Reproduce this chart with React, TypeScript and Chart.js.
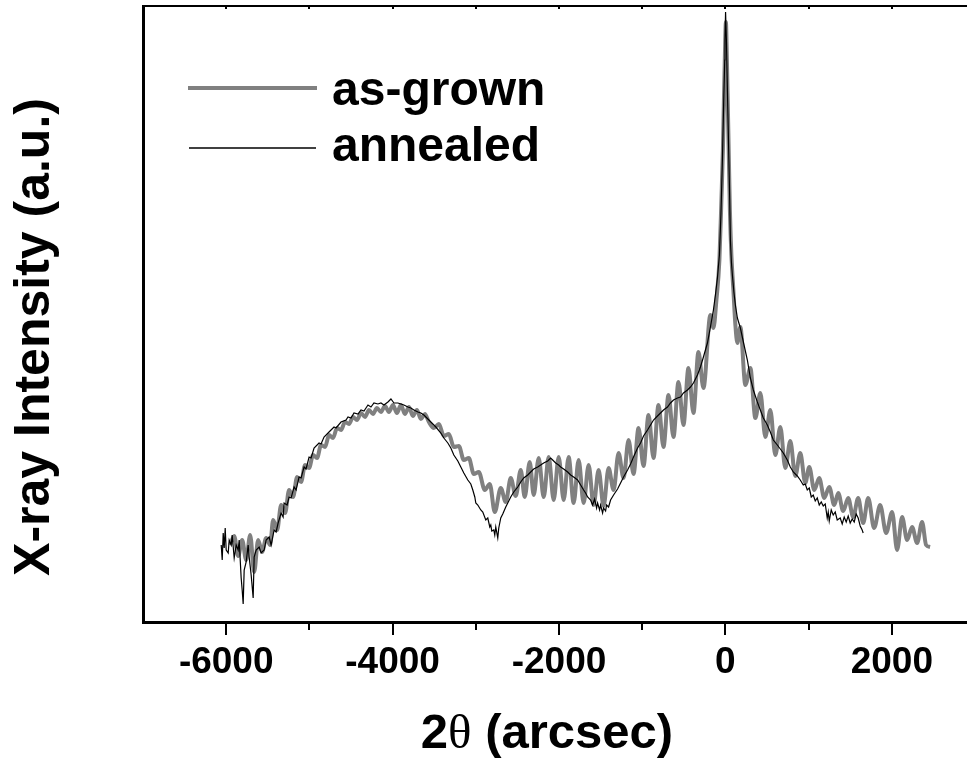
import React, { useEffect, useRef } from 'react';
import { Chart, registerables } from 'chart.js';

Chart.register(...registerables);

// ---- Data (x in arcsec, y = log intensity in arbitrary units) ----
const asGrownX = [
  -5952, -5904, -5856, -5808, -5760, -5712, -5664, -5616, -5568, -5520, -5472, -5436, -5388, -5340, -5292, -5244,
  -5196, -5148, -5100, -5052, -5004, -4956, -4908, -4860, -4812, -4764, -4716, -4668, -4620, -4572, -4524, -4476,
  -4428, -4380, -4332, -4284, -4236, -4188, -4140, -4092, -4044, -3996, -3948, -3900, -3852, -3804, -3756, -3708,
  -3660, -3612, -3564, -3504, -3444, -3384, -3324, -3264, -3204, -3144, -3084, -3024, -2964, -2892, -2832, -2772,
  -2700, -2640, -2580, -2520, -2460, -2412, -2352, -2304, -2244, -2184, -2124, -2064, -2004, -1944, -1884, -1824,
  -1764, -1704, -1644, -1584, -1524, -1464, -1404, -1344, -1284, -1224, -1164, -1104, -1044, -984, -924, -864,
  -804, -744, -684, -624, -564, -504, -444, -384, -324, -264, -180, -144, -108, -72, -48, -30,
  -18, -6, 6, 18, 30, 42, 54, 72, 96, 120, 144, 180, 240, 300, 360, 420,
  480, 540, 600, 660, 720, 780, 840, 900, 960, 1008, 1068, 1128, 1188, 1248, 1308, 1356,
  1416, 1476, 1536, 1596, 1656, 1716, 1788, 1860, 1932, 2004, 2064, 2124, 2184, 2244, 2304, 2364,
  2412, 2460,
];
const asGrownY = [
  77, 86, 66, 82, 62, 87, 50, 82, 70, 84, 77, 102, 92, 117, 109, 132,
  125, 145, 140, 157, 154, 167, 164, 177, 175, 187, 184, 194, 192, 200, 198, 205,
  202, 209, 205, 212, 208, 214, 210, 216, 210, 217, 209, 217, 208, 215, 206, 212,
  203, 208, 200, 194, 198, 186, 188, 175, 176, 162, 164, 148, 150, 132, 138, 110,
  134, 120, 144, 126, 152, 125, 160, 127, 164, 125, 165, 122, 165, 122, 165, 119,
  162, 119, 157, 117, 152, 116, 154, 132, 169, 144, 182, 148, 194, 156, 207, 164,
  217, 175, 227, 185, 240, 197, 254, 209, 270, 234, 307, 294, 322, 362, 422, 472,
  522, 567, 600, 562, 512, 462, 412, 367, 332, 297, 279, 295, 237, 254, 204, 229,
  185, 212, 167, 195, 154, 181, 146, 169, 139, 155, 132, 144, 124, 135, 117, 129,
  111, 124, 105, 124, 99, 124, 94, 117, 89, 110, 72, 105, 82, 95, 79, 100,
  77, 75,
];

const annealedX = [
  -6060, -6048, -6036, -6024, -6012, -6000, -5976, -5964, -5940, -5928, -5904, -5880, -5856, -5844, -5820, -5808,
  -5796, -5784, -5760, -5736, -5724, -5700, -5676, -5664, -5640, -5604, -5580, -5544, -5520, -5484, -5460, -5424,
  -5400, -5376, -5340, -5316, -5304, -5268, -5244, -5220, -5184, -5160, -5124, -5100, -5064, -5040, -5004, -4980,
  -4944, -4884, -4860, -4824, -4764, -4704, -4680, -4620, -4560, -4536, -4500, -4464, -4416, -4380, -4344, -4296,
  -4260, -4224, -4176, -4140, -4104, -4056, -4020, -3984, -3936, -3900, -3864, -3816, -3780, -3744, -3696, -3660,
  -3624, -3576, -3540, -3480, -3420, -3384, -3336, -3300, -3264, -3216, -3180, -3144, -3096, -3060, -3036, -3012,
  -3000, -2976, -2940, -2916, -2880, -2856, -2832, -2820, -2808, -2784, -2772, -2760, -2736, -2724, -2700, -2676,
  -2640, -2616, -2580, -2544, -2496, -2460, -2424, -2376, -2340, -2304, -2256, -2220, -2184, -2136, -2100, -2076,
  -2040, -2004, -1980, -1944, -1896, -1860, -1824, -1776, -1740, -1704, -1680, -1656, -1620, -1596, -1572, -1548,
  -1536, -1512, -1500, -1476, -1464, -1440, -1428, -1404, -1380, -1344, -1296, -1260, -1224, -1176, -1140, -1104,
  -1056, -1020, -984, -936, -900, -864, -816, -780, -744, -696, -660, -624, -576, -540, -504, -456,
  -420, -384, -336, -300, -264, -216, -180, -144, -120, -96, -72, -54, -36, -20, -8, -5,
  2, 12, 24, 42, 52, 60, 72, 84, 102, 120, 144, 180, 216, 264, 300, 336,
  384, 420, 456, 504, 540, 576, 624, 660, 696, 744, 780, 816, 864, 900, 936, 960,
  984, 1008, 1032, 1056, 1080, 1104, 1128, 1152, 1176, 1200, 1224, 1236, 1248, 1272, 1296, 1320,
  1344, 1380, 1404, 1428, 1452, 1476, 1500, 1524, 1548, 1572, 1596, 1620, 1644, 1656,
];
const annealedY = [
  77, 62, 89, 74, 94, 72, 69, 82, 77, 87, 64, 77, 72, 82, 44, 32,
  18, 52, 60, 77, 65, 47, 24, 65, 72, 75, 69, 72, 82, 85, 77, 92,
  90, 99, 109, 105, 119, 117, 125, 124, 135, 132, 145, 144, 155, 153, 165, 164,
  174, 179, 178, 185, 190, 195, 194, 200, 202, 205, 204, 209, 208, 212, 211, 217,
  215, 219, 218, 219, 217, 220, 223, 219, 219, 218, 217, 215, 214, 212, 210, 209,
  207, 203, 200, 195, 189, 184, 179, 174, 167, 161, 155, 149, 142, 138, 132, 125,
  119, 117, 112, 110, 102, 104, 95, 97, 91, 92, 87, 95, 84, 94, 104, 108,
  115, 119, 125, 130, 135, 140, 144, 147, 150, 153, 155, 157, 159, 161, 164, 162,
  159, 157, 155, 153, 150, 147, 145, 142, 137, 132, 129, 125, 122, 117, 123, 114,
  119, 112, 117, 109, 114, 111, 117, 115, 122, 127, 133, 139, 145, 152, 158, 165,
  174, 179, 186, 192, 197, 202, 206, 209, 212, 215, 219, 222, 224, 225, 229, 232,
  235, 239, 247, 255, 265, 279, 295, 312, 327, 344, 367, 407, 462, 522, 562, 582,
  610, 582, 532, 462, 422, 382, 360, 347, 330, 317, 304, 294, 280, 262, 244, 232,
  220, 212, 204, 197, 190, 182, 177, 173, 169, 162, 155, 150, 146, 142, 137, 138,
  132, 134, 125, 127, 121, 124, 117, 120, 116, 118, 104, 110, 101, 112, 107, 110,
  102, 104, 98, 105, 100, 106, 99, 103, 100, 108, 104, 96, 92, 89,
];

const seriesLabels = ['as-grown', 'annealed'];
const seriesColors = ['#808080', '#000000'];
const xTickValues = [-7000, -6000, -5000, -4000, -3000, -2000, -1000, 0, 1000, 2000, 3000];
const xLabelValues = [-6000, -4000, -2000, 0, 2000];
const xMin = -7000;
const xMax = 3000;
const yMin = 0;
const yMax = 616;
const xTitleParts = ['2', 'θ', ' (arcsec)'];
const yTitle = 'X-ray Intensity (a.u.)';

const SANS = '"Liberation Sans", Arial, sans-serif';
const SERIF = '"Liberation Serif", "DejaVu Serif", serif';

const decorations = {
  id: 'decorations',
  afterDraw(chart: any) {
    const ctx = chart.ctx as CanvasRenderingContext2D;
    const xs = chart.scales.x;
    const area = chart.chartArea;
    ctx.save();
    ctx.strokeStyle = '#000';
    ctx.fillStyle = '#000';

    // x ticks (bottom: long major / short minor; top: tiny inward)
    ctx.lineWidth = 2;
    xTickValues.forEach((v) => {
      const px = Math.round(xs.getPixelForValue(v));
      if (v !== xMin) {
        const len = xLabelValues.includes(v) ? 13 : 8;
        ctx.beginPath();
        ctx.moveTo(px, area.bottom);
        ctx.lineTo(px, area.bottom + len);
        ctx.stroke();
        ctx.beginPath();
        ctx.moveTo(px, area.top);
        ctx.lineTo(px, area.top + 3);
        ctx.stroke();
      }
    });

    // tick labels
    ctx.font = `bold 37px ${SANS}`;
    ctx.textAlign = 'center';
    ctx.textBaseline = 'alphabetic';
    xLabelValues.forEach((v) => {
      ctx.fillText(String(v), xs.getPixelForValue(v), 673);
    });

    // x title with mixed fonts
    const fonts = [`bold 49px ${SANS}`, `49px ${SERIF}`, `bold 49px ${SANS}`];
    let total = 0;
    const widths = xTitleParts.map((t, i) => {
      ctx.font = fonts[i];
      const w = ctx.measureText(t).width;
      total += w;
      return w;
    });
    let cx = 547 - total / 2;
    ctx.textAlign = 'left';
    xTitleParts.forEach((t, i) => {
      ctx.font = fonts[i];
      ctx.fillText(t, cx, 748);
      cx += widths[i];
    });

    // y title
    ctx.save();
    ctx.translate(49, 337);
    ctx.rotate(-Math.PI / 2);
    ctx.font = `bold 50px ${SANS}`;
    ctx.textAlign = 'center';
    ctx.fillText(yTitle, 0, 0);
    ctx.restore();

    // legend
    const legendRows = [
      { y: 88, x0: 188, x1: 317, w: 4, base: 105 },
      { y: 148, x0: 189, x1: 316, w: 1.3, base: 161 },
    ];
    legendRows.forEach((r, i) => {
      ctx.strokeStyle = seriesColors[i];
      ctx.lineWidth = r.w;
      ctx.beginPath();
      ctx.moveTo(r.x0, r.y);
      ctx.lineTo(r.x1, r.y);
      ctx.stroke();
      ctx.fillStyle = '#000';
      ctx.font = `bold 48px ${SANS}`;
      ctx.textAlign = 'left';
      ctx.fillText(seriesLabels[i], 332, r.base);
    });
    ctx.restore();
  },
};

export default function App() {
  const canvasRef = useRef<HTMLCanvasElement | null>(null);

  useEffect(() => {
    const canvas = canvasRef.current;
    if (!canvas) return;
    const asGrown = asGrownX.map((x, i) => ({ x, y: asGrownY[i] }));
    const annealed = annealedX.map((x, i) => ({ x, y: annealedY[i] }));

    const chart = new Chart(canvas, {
      type: 'scatter',
      data: {
        datasets: [
          {
            label: seriesLabels[0],
            data: asGrown,
            showLine: true,
            borderColor: seriesColors[0],
            backgroundColor: seriesColors[0],
            borderWidth: 4,
            pointRadius: 0,
            cubicInterpolationMode: 'monotone',
            order: 2,
          },
          {
            label: seriesLabels[1],
            data: annealed,
            showLine: true,
            borderColor: seriesColors[1],
            backgroundColor: seriesColors[1],
            borderWidth: 1.2,
            pointRadius: 0,
            tension: 0,
            order: 1,
          },
        ],
      },
      options: {
        animation: false,
        responsive: false,
        maintainAspectRatio: false,
        devicePixelRatio: 1,
        layout: { padding: { left: 143, top: 6, right: 25, bottom: 0 } },
        plugins: {
          legend: { display: false },
          tooltip: { enabled: false },
        },
        scales: {
          x: {
            type: 'linear',
            position: 'bottom',
            min: xMin,
            max: xMax,
            grid: { display: false },
            ticks: { display: false },
            border: { display: true, width: 3, color: '#000' },
            afterFit: (scale: any) => {
              scale.height = 143;
            },
          },
          x2: {
            type: 'linear',
            position: 'top',
            min: xMin,
            max: xMax,
            grid: { display: false },
            ticks: { display: false },
            border: { display: true, width: 2, color: '#000' },
            afterFit: (scale: any) => {
              scale.height = 0;
            },
          },
          y: {
            type: 'linear',
            position: 'left',
            min: yMin,
            max: yMax,
            grid: { display: false },
            ticks: { display: false },
            border: { display: true, width: 3, color: '#000' },
            afterFit: (scale: any) => {
              scale.width = 0;
            },
          },
        },
      } as any,
      plugins: [decorations],
    });

    return () => chart.destroy();
  }, []);

  return (
    <div
      style={{
        position: 'absolute',
        left: 0,
        top: 0,
        width: 967,
        height: 765,
        overflow: 'hidden',
        background: '#ffffff',
      }}
    >
      <canvas ref={canvasRef} width={1000} height={765} style={{ display: 'block' }} />
    </div>
  );
}
